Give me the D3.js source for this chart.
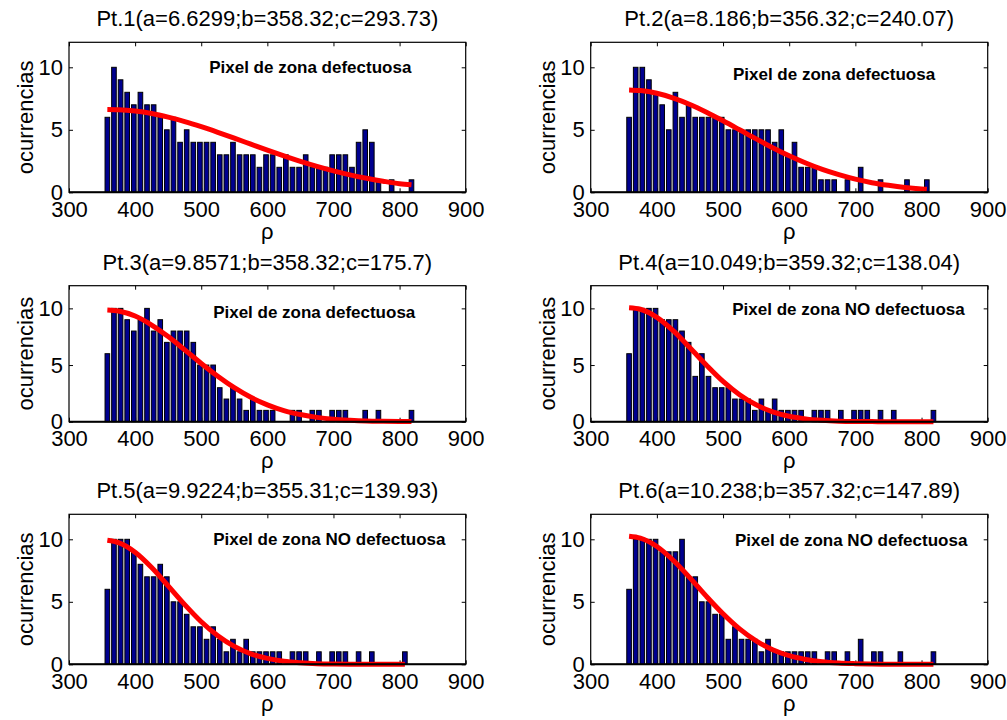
<!DOCTYPE html>
<html>
<head>
<meta charset="utf-8">
<script src="https://cdnjs.cloudflare.com/ajax/libs/d3/7.8.5/d3.min.js"></script>
<style>
  body { margin: 0; background: #fff; }
  svg text { font-family: "Liberation Sans", Arial, Helvetica, sans-serif; fill: #000; }
</style>
</head>
<body>
<div id="chart"></div>
<script>
// Histogram bin centres (rho), 10 units wide
const binCenters = [358, 368, 378, 388, 398, 408, 418, 428, 438, 448, 458, 468, 478, 488, 498, 508,
  518, 528, 538, 548, 558, 568, 578, 588, 598, 608, 618, 628, 638, 648, 658, 668, 678, 688, 698, 708,
  718, 728, 738, 748, 758, 768, 778, 788, 798, 808, 818];

// Occurrences per bin, one array per point
const countsPt1 = [6, 10, 9, 8, 7, 8, 7, 7, 6, 5, 6, 4, 5, 4, 4, 4, 4, 3, 3, 4, 3, 3, 3, 2, 3, 3, 2, 3, 2, 2, 3, 2, 2, 2, 3, 3, 3, 2, 4, 5, 4, 1, 0, 1, 0, 0, 1];
const countsPt2 = [6, 10, 10, 9, 8, 7, 5, 8, 6, 7, 6, 6, 6, 6, 6, 5, 5, 5, 5, 5, 5, 5, 4, 5, 3, 4, 2, 2, 2, 1, 1, 1, 0, 1, 0, 2, 0, 0, 1, 0, 0, 0, 1, 0, 0, 1];
const countsPt3 = [6, 10, 10, 9, 8, 9, 10, 8, 9, 7, 8, 8, 8, 7, 5, 5, 5, 3, 2, 3, 2, 1, 2, 1, 1, 1, 0, 0, 1, 1, 0, 1, 1, 0, 1, 1, 1, 0, 0, 1, 0, 1, 0, 0, 0, 0, 1];
const countsPt4 = [6, 10, 10, 10, 10, 9, 9, 9, 8, 7, 4, 6, 4, 3, 3, 3, 2, 2, 2, 1, 2, 1, 2, 1, 1, 1, 1, 0, 1, 1, 1, 0, 1, 0, 1, 1, 1, 0, 1, 0, 1, 0, 0, 0, 0, 0, 1];
const countsPt5 = [6, 10, 10, 10, 9, 8, 7, 7, 8, 7, 5, 5, 4, 3, 3, 2, 3, 2, 1, 2, 1, 2, 1, 1, 1, 1, 1, 0, 1, 1, 1, 0, 1, 0, 1, 1, 1, 0, 1, 0, 1, 0, 0, 0, 0, 1];
const countsPt6 = [6, 10, 10, 10, 10, 9, 9, 9, 10, 7, 7, 5, 5, 4, 4, 2, 3, 2, 2, 2, 1, 2, 1, 1, 1, 1, 1, 1, 1, 0, 1, 1, 0, 1, 0, 2, 0, 1, 1, 0, 0, 1, 0, 0, 0, 0, 1];

// Fitted curve
const fitRhoLong = [358, 375, 400, 425, 450, 475, 500, 525, 550, 575, 600, 625, 650, 675, 700, 725, 750, 775, 800, 818];
const fitRhoShort = [358, 375, 400, 425, 450, 475, 500, 525, 550, 575, 600, 625, 650, 675, 700, 725, 750, 775, 800, 808];
const fitPt1 = [6.63, 6.61, 6.50, 6.30, 6.01, 5.66, 5.25, 4.80, 4.33, 3.85, 3.37, 2.91, 2.47, 2.07, 1.71, 1.39, 1.12, 0.89, 0.69, 0.60];
const fitPt2 = [8.19, 8.14, 7.92, 7.54, 7.03, 6.41, 5.72, 5.00, 4.27, 3.57, 2.92, 2.34, 1.83, 1.41, 1.05, 0.77, 0.56, 0.39, 0.27, 0.24];
const fitPt3 = [9.86, 9.77, 9.32, 8.53, 7.51, 6.34, 5.14, 4.01, 3.00, 2.15, 1.49, 0.98, 0.63, 0.38, 0.22, 0.13, 0.07, 0.04, 0.02, 0.01];
const fitPt4 = [10.05, 9.92, 9.21, 8.01, 6.52, 4.98, 3.55, 2.38, 1.49, 0.87, 0.48, 0.25, 0.12, 0.05, 0.02, 0.01, 0, 0, 0, 0];
const fitPt5 = [9.92, 9.73, 8.96, 7.74, 6.27, 4.77, 3.40, 2.28, 1.43, 0.84, 0.47, 0.24, 0.12, 0.05, 0.02, 0.01, 0, 0, 0, 0];
const fitPt6 = [10.24, 10.09, 9.42, 8.30, 6.91, 5.43, 4.04, 2.83, 1.87, 1.17, 0.69, 0.39, 0.20, 0.10, 0.05, 0.02, 0.01, 0, 0, 0];

// Texts
const titles = [
  "Pt.1(a=6.6299;b=358.32;c=293.73)",
  "Pt.2(a=8.186;b=356.32;c=240.07)",
  "Pt.3(a=9.8571;b=358.32;c=175.7)",
  "Pt.4(a=10.049;b=359.32;c=138.04)",
  "Pt.5(a=9.9224;b=355.31;c=139.93)",
  "Pt.6(a=10.238;b=357.32;c=147.89)"
];
const notes = [
  "Pixel de zona defectuosa",
  "Pixel de zona defectuosa",
  "Pixel de zona defectuosa",
  "Pixel de zona NO defectuosa",
  "Pixel de zona NO defectuosa",
  "Pixel de zona NO defectuosa"
];
// where each note sits, in data units (rho, occurrences)
const noteRho = [512, 515, 518, 514, 518, 518];
const noteCount = [10, 9.45, 9.7, 9.9, 10, 9.95];

const xTicks = [300, 400, 500, 600, 700, 800, 900];
const yTicks = [0, 5, 10];
const xLabel = "\u03C1";
const yLabel = "ocurrencias";

const panels = [
  { counts: countsPt1, fitX: fitRhoLong, fitY: fitPt1 },
  { counts: countsPt2, fitX: fitRhoShort, fitY: fitPt2 },
  { counts: countsPt3, fitX: fitRhoLong, fitY: fitPt3 },
  { counts: countsPt4, fitX: fitRhoLong, fitY: fitPt4 },
  { counts: countsPt5, fitX: fitRhoShort, fitY: fitPt5 },
  { counts: countsPt6, fitX: fitRhoLong, fitY: fitPt6 }
];

// Axes boxes (pixels) in the 1007x720 figure
const cols = [{ x0: 69, x1: 465.7 }, { x0: 590.7, x1: 987.7 }];
const rows = [{ y0: 42.3, y1: 192.3 }, { y0: 285.7, y1: 421.7 }, { y0: 514.3, y1: 664.3 }];

const width = 1007, height = 720;
const barColor = "#00008f";
const fitColor = "#ff0000";

const svg = d3.select("#chart").append("svg")
  .attr("width", width)
  .attr("height", height);

svg.append("rect").attr("width", width).attr("height", height).attr("fill", "#fff");

function drawPanel(p, i) {
  const c = cols[i % 2], r = rows[Math.floor(i / 2)];
  const x = d3.scaleLinear().domain([300, 900]).range([c.x0, c.x1]);
  const y = d3.scaleLinear().domain([0, 12]).range([r.y1, r.y0]);
  const g = svg.append("g");
  const midX = (c.x0 + c.x1) / 2;

  // axes with inward ticks on all four sides
  const bottom = g.append("g").attr("transform", `translate(0,${r.y1})`)
    .call(d3.axisBottom(x).tickValues(xTicks).tickSizeInner(-4).tickSizeOuter(0).tickPadding(9));
  g.append("g").attr("transform", `translate(0,${r.y0})`)
    .call(d3.axisTop(x).tickValues(xTicks).tickSizeInner(-4).tickSizeOuter(0).tickFormat(""));
  const left = g.append("g").attr("transform", `translate(${c.x0},0)`)
    .call(d3.axisLeft(y).tickValues(yTicks).tickSizeInner(-4).tickSizeOuter(0).tickPadding(6));
  g.append("g").attr("transform", `translate(${c.x1},0)`)
    .call(d3.axisRight(y).tickValues(yTicks).tickSizeInner(-4).tickSizeOuter(0).tickFormat(""));

  g.selectAll(".domain").remove();
  g.selectAll(".tick line").attr("stroke", "#000").attr("stroke-width", 1);
  g.selectAll(".tick text").attr("font-size", "22px")
    .attr("font-family", "'Liberation Sans', Arial, sans-serif");

  // histogram bars
  const bars = p.counts.map((v, k) => ({ rho: binCenters[k], n: v })).filter(d => d.n > 0);
  g.append("g").selectAll("rect")
    .data(bars)
    .enter().append("rect")
    .attr("x", d => x(d.rho - 5) + 1)
    .attr("width", d => x(d.rho + 5) - x(d.rho - 5) - 2)
    .attr("y", d => y(d.n))
    .attr("height", d => y(0) - y(d.n))
    .attr("fill", barColor)
    .attr("stroke", "#000")
    .attr("stroke-width", 1);

  // fitted curve
  const line = d3.line()
    .x(d => x(d[0]))
    .y(d => y(d[1]))
    .curve(d3.curveMonotoneX);
  g.append("path")
    .datum(p.fitX.map((v, k) => [v, p.fitY[k]]))
    .attr("d", line)
    .attr("fill", "none")
    .attr("stroke", fitColor)
    .attr("stroke-width", 5);

  // box
  g.append("rect")
    .attr("x", c.x0).attr("y", r.y0)
    .attr("width", c.x1 - c.x0).attr("height", r.y1 - r.y0)
    .attr("fill", "none").attr("stroke", "#000").attr("stroke-width", 1.2);
  g.append("line")
    .attr("x1", c.x0).attr("x2", c.x1).attr("y1", r.y1).attr("y2", r.y1)
    .attr("stroke", "#000").attr("stroke-width", 2);

  // texts
  g.append("text")
    .attr("x", midX).attr("y", r.y0 - 16)
    .attr("text-anchor", "middle")
    .attr("font-size", "22px")
    .text(titles[i]);

  g.append("text")
    .attr("x", x(noteRho[i])).attr("y", y(noteCount[i]))
    .attr("dy", "0.35em")
    .attr("font-size", "17px")
    .attr("font-weight", "bold")
    .text(notes[i]);

  g.append("text")
    .attr("x", midX).attr("y", r.y1 + 46.5)
    .attr("text-anchor", "middle")
    .attr("font-size", "22px")
    .text(xLabel);

  g.append("text")
    .attr("transform", `translate(${c.x0 - 36},${(r.y0 + r.y1) / 2}) rotate(-90)`)
    .attr("text-anchor", "middle")
    .attr("font-size", "22px")
    .text(yLabel);
}

panels.forEach(drawPanel);
</script>
</body>
</html>
